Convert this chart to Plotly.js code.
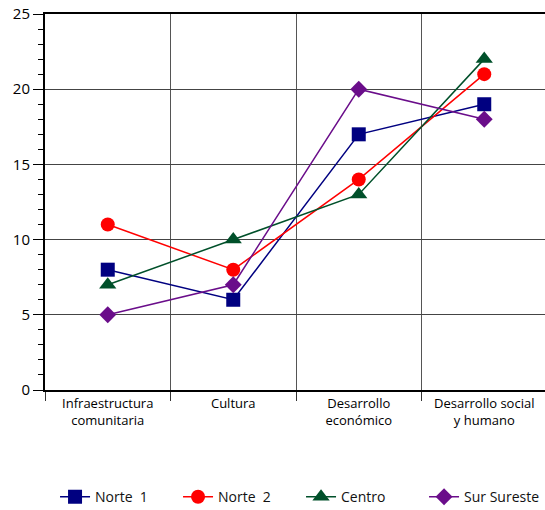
<!DOCTYPE html>
<html>
<head>
<meta charset="utf-8">
<script src="https://cdn.plot.ly/plotly-3.0.1.min.js"></script>
<style>html,body{margin:0;padding:0;overflow:hidden;background:#fff;}</style>
</head>
<body>
<div id="chart"></div>
<script>
const categories = ["Infraestructura<br>comunitaria", "Cultura", "Desarrollo<br>económico", "Desarrollo social<br>y humano"];
const norte1 = [8, 6, 17, 19];
const norte2 = [11, 8, 14, 21];
const centro = [7, 10, 13, 22];
const surSureste = [5, 7, 20, 18];
const seriesNames = ["Norte  1", "Norte  2", "Centro", "Sur Sureste"];
const yTicks = [0, 5, 10, 15, 20, 25];

const specs = [
  {y: norte1, color: "#000080", symbol: "square", size: 14},
  {y: norte2, color: "#ff0000", symbol: "circle", size: 14},
  {y: centro, color: "#00502a", symbol: "triangle-up", size: 15},
  {y: surSureste, color: "#6a0d8a", symbol: "diamond", size: 13}
];

const traces = specs.map((s, i) => ({
  type: "scatter",
  mode: "lines+markers",
  name: seriesNames[i],
  x: categories,
  y: s.y,
  line: {color: s.color, width: 1.5},
  marker: {color: s.color, symbol: s.symbol, size: s.size}
}));

const layout = {
  width: 547,
  height: 510,
  margin: {l: 45, r: 0, t: 14, b: 120, autoexpand: false},
  paper_bgcolor: "#fff",
  plot_bgcolor: "#fff",
  font: {family: "Open Sans, DejaVu Sans, sans-serif", size: 13, color: "#111"},
  showlegend: true,
  legend: {
    orientation: "h",
    x: 0.02, xanchor: "left",
    y: -0.285, yanchor: "middle",
    font: {size: 14, color: "#111"},
    entrywidth: 78,
    entrywidthmode: "pixels",
    tracegroupgap: 0
  },
  xaxis: {
    type: "category",
    tickson: "boundaries",
    ticks: "outside",
    ticklen: 9,
    tickwidth: 1,
    tickcolor: "#333",
    showgrid: true,
    gridcolor: "#555",
    gridwidth: 1,
    showline: true,
    linecolor: "#000",
    linewidth: 2,
    mirror: true,
    range: [-0.5, 3.5],
    tickfont: {size: 13, color: "#000"},
    fixedrange: true
  },
  yaxis: {
    range: [0, 25],
    tickvals: yTicks,
    ticktext: yTicks.map(String),
    ticks: "outside",
    ticklen: 10,
    tickcolor: "#000",
    showgrid: true,
    gridcolor: "#444",
    gridwidth: 1,
    zeroline: false,
    showline: true,
    linecolor: "#000",
    linewidth: 2,
    tickfont: {size: 15, color: "#000"},
    minor: {ticks: "outside", dtick: 1, ticklen: 5, tickcolor: "#000", showgrid: false},
    fixedrange: true
  }
};

Plotly.newPlot("chart", traces, layout, {displayModeBar: false, staticPlot: true});
</script>
</body>
</html>
